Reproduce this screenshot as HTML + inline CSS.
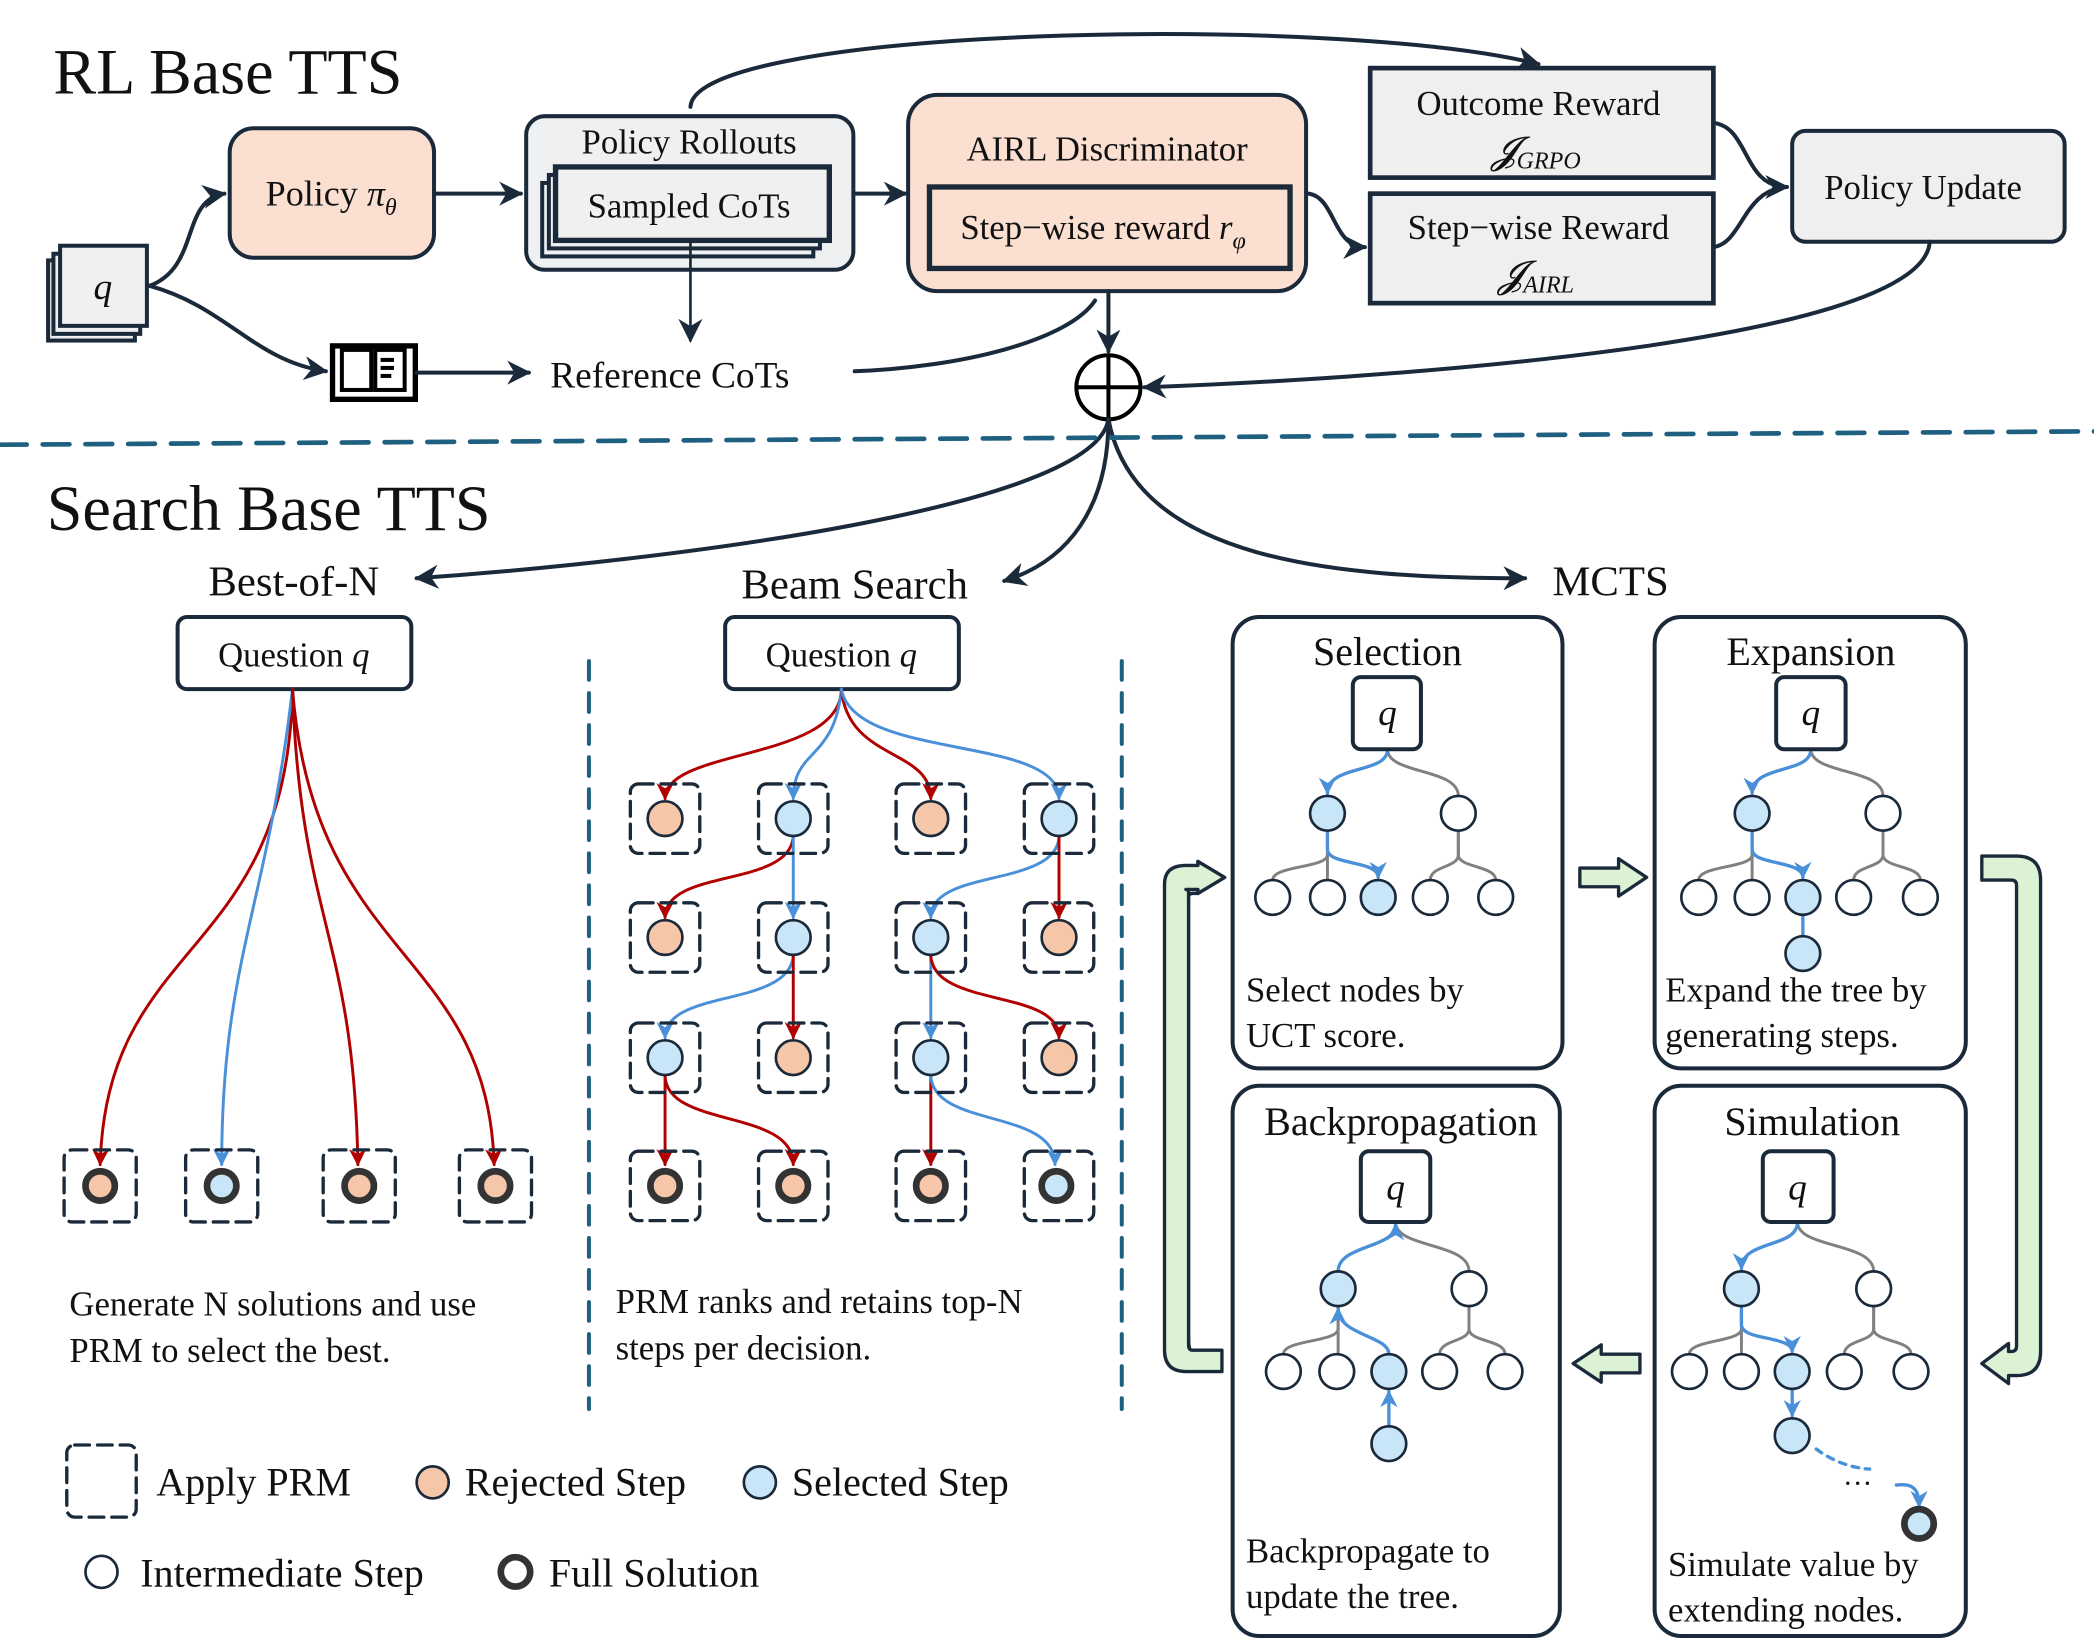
<!DOCTYPE html>
<html><head><meta charset="utf-8"><style>
html,body{margin:0;padding:0;background:#fff}
svg{display:block}
text{font-family:"Liberation Serif",serif;fill:#111}
</style></head><body>
<svg width="2094" height="1650" viewBox="0 0 1568 1235.5" preserveAspectRatio="none" xmlns="http://www.w3.org/2000/svg">
<defs>
<marker id="ad" viewBox="0 0 10 10" refX="9" refY="5" markerWidth="7" markerHeight="7" orient="auto" markerUnits="userSpaceOnUse"><path d="M0,0 L10,5 L0,10 L3,5z" fill="#1b2a3a"/></marker>
<marker id="adb" viewBox="0 0 10 10" refX="9" refY="5" markerWidth="18" markerHeight="18" orient="auto" markerUnits="userSpaceOnUse"><path d="M0,0 L10,5 L0,10 L3,5z" fill="#1b2a3a"/></marker>
<marker id="ar" viewBox="0 0 10 10" refX="9" refY="5" markerWidth="13" markerHeight="13" orient="auto" markerUnits="userSpaceOnUse"><path d="M0,0 L10,5 L0,10 L3,5z" fill="#b00000"/></marker>
<marker id="ab" viewBox="0 0 10 10" refX="9" refY="5" markerWidth="13" markerHeight="13" orient="auto" markerUnits="userSpaceOnUse"><path d="M0,0 L10,5 L0,10 L3,5z" fill="#4a90d9"/></marker>
</defs>
<g stroke-linecap="round">
<!-- top section -->
<text x="40" y="70" font-size="48">RL Base TTS</text>
<!-- q stack -->
<rect x="36" y="195" width="65" height="60" fill="#eee" stroke="#1b2a3a" stroke-width="3"/>
<rect x="40" y="190" width="65" height="60" fill="#eee" stroke="#1b2a3a" stroke-width="3"/>
<rect x="45" y="184" width="65" height="60" fill="#f0f0f0" stroke="#1b2a3a" stroke-width="3"/>
<text x="77" y="224" font-size="28" font-style="italic" text-anchor="middle">q</text>
<!-- policy -->
<rect x="172" y="96" width="153" height="97" rx="18" fill="#fbe0d2" stroke="#1b2a3a" stroke-width="3"/>
<text x="248" y="154" font-size="27" text-anchor="middle">Policy <tspan font-style="italic">π</tspan><tspan font-size="18" font-style="italic" dy="7">θ</tspan></text>
<!-- rollouts -->
<rect x="394" y="87" width="245" height="115" rx="14" fill="#eef0f2" stroke="#1b2a3a" stroke-width="3"/>
<text x="516" y="115" font-size="26" text-anchor="middle">Policy Rollouts</text>
<rect x="406" y="137" width="203" height="55" fill="#eef0f2" stroke="#1b2a3a" stroke-width="3"/>
<rect x="411" y="131" width="203" height="55" fill="#eef0f2" stroke="#1b2a3a" stroke-width="3"/>
<rect x="416" y="125" width="205" height="55" fill="#f0f0f0" stroke="#1b2a3a" stroke-width="4"/>
<text x="516" y="163" font-size="26" text-anchor="middle">Sampled CoTs</text>
<!-- AIRL -->
<rect x="680" y="71" width="298" height="147" rx="22" fill="#fbe0d2" stroke="#1b2a3a" stroke-width="3"/>
<text x="829" y="120" font-size="26" text-anchor="middle">AIRL Discriminator</text>
<rect x="696" y="140" width="270" height="61" fill="#fbe0d2" stroke="#1b2a3a" stroke-width="4"/>
<text x="826" y="179" font-size="26" text-anchor="middle">Step−wise reward <tspan font-style="italic">r</tspan><tspan font-size="18" font-style="italic" dy="7">φ</tspan></text>
<!-- outcome -->
<rect x="1026" y="51" width="257" height="82" fill="#efefef" stroke="#1b2a3a" stroke-width="3.5"/>
<text x="1152" y="86" font-size="26" text-anchor="middle">Outcome Reward</text>
<text x="1150" y="122" font-size="28" font-style="italic" text-anchor="middle">𝓙<tspan font-size="18" dy="4">GRPO</tspan></text>
<rect x="1026" y="145" width="257" height="82" fill="#efefef" stroke="#1b2a3a" stroke-width="3.5"/>
<text x="1152" y="179" font-size="26" text-anchor="middle">Step−wise Reward</text>
<text x="1150" y="215" font-size="28" font-style="italic" text-anchor="middle">𝓙<tspan font-size="18" dy="4">AIRL</tspan></text>
<!-- policy update -->
<rect x="1342" y="98" width="204" height="83" rx="10" fill="#efefef" stroke="#1b2a3a" stroke-width="3"/>
<text x="1440" y="149" font-size="26" text-anchor="middle">Policy Update</text>
<!-- book -->
<g stroke="#000" fill="none" stroke-width="3">
<rect x="249" y="259" width="62" height="40" fill="#fff" stroke-width="4"/>
<rect x="256" y="262" width="22" height="30"/>
<rect x="281" y="262" width="22" height="30"/>
</g>
<rect x="285" y="268" width="10" height="3" fill="#000"/><rect x="285" y="274" width="10" height="3" fill="#000"/><rect x="285" y="280" width="8" height="3" fill="#000"/>
<text x="412" y="290" font-size="28">Reference  CoTs</text>
<!-- oplus -->
<circle cx="830" cy="290" r="24" fill="#fff" stroke="#000" stroke-width="3"/>
<line x1="806" y1="290" x2="854" y2="290" stroke="#000" stroke-width="3"/>
<line x1="830" y1="266" x2="830" y2="314" stroke="#000" stroke-width="3"/>
<!-- top arrows -->
<g fill="none" stroke="#1b2a3a" stroke-width="3">
<path d="M112,214 C150,200 135,150 168,145" marker-end="url(#adb)"/>
<path d="M112,214 C170,230 190,270 244,278" marker-end="url(#adb)"/>
<path d="M325,145 L390,145" marker-end="url(#adb)"/>
<path d="M639,145 L678,145" marker-end="url(#adb)"/>
<path d="M517,182 L517,255" stroke-width="2" marker-end="url(#adb)"/>
<path d="M517,80 C520,20 1000,10 1152,48" marker-end="url(#adb)"/>
<path d="M312,279 L396,279" marker-end="url(#adb)"/>
<path d="M640,278 C720,275 800,255 820,225"/>
<path d="M830,218 L830,263" marker-end="url(#adb)"/>
<path d="M980,145 C1000,148 998,185 1022,185" marker-end="url(#adb)"/>
<path d="M1283,92 C1310,95 1305,140 1338,140" marker-end="url(#adb)"/>
<path d="M1283,185 C1305,182 1305,142 1338,140"/>
<path d="M1445,181 C1440,260 1000,285 857,290" marker-end="url(#adb)"/>
<path d="M830,314 C820,380 500,420 312,433" marker-end="url(#adb)"/>
<path d="M830,314 C830,380 800,420 752,435" marker-end="url(#adb)"/>
<path d="M830,314 C850,420 1000,433 1142,433" marker-end="url(#adb)"/>
</g>
<line x1="0" y1="333" x2="1568" y2="323" stroke="#1f5f80" stroke-width="3.5" stroke-dasharray="20,12"/>

<!-- Search -->
<text x="35" y="397" font-size="48">Search Base TTS</text>
<text x="220" y="446" font-size="32" text-anchor="middle">Best-of-N</text>
<text x="640" y="448" font-size="32" text-anchor="middle">Beam Search</text>
<text x="1206" y="446" font-size="32" text-anchor="middle">MCTS</text>

<rect x="133" y="462" width="175" height="54" rx="7" fill="#fff" stroke="#1b2a3a" stroke-width="3"/>
<text x="220" y="499" font-size="26" text-anchor="middle">Question <tspan font-style="italic">q</tspan></text>
<rect x="543" y="462" width="175" height="54" rx="7" fill="#fff" stroke="#1b2a3a" stroke-width="3"/>
<text x="630" y="499" font-size="26" text-anchor="middle">Question <tspan font-style="italic">q</tspan></text>

<line x1="441" y1="495" x2="441" y2="1055" stroke="#1f5f80" stroke-width="3" stroke-dasharray="14,10"/>
<line x1="840" y1="495" x2="840" y2="1055" stroke="#1f5f80" stroke-width="3" stroke-dasharray="14,10"/>

<!-- best of N -->
<g fill="none" stroke-width="2.2">
<path d="M219,516 C215,720 80,700 75,872" stroke="#b00000" marker-end="url(#ar)"/>
<path d="M219,516 C200,680 166,720 166,872" stroke="#4a90d9" marker-end="url(#ab)"/>
<path d="M219,516 C225,690 265,700 268,872" stroke="#b00000" marker-end="url(#ar)"/>
<path d="M219,516 C235,720 365,710 370,872" stroke="#b00000" marker-end="url(#ar)"/>
</g>
<g fill="none" stroke="#1b2a3a" stroke-width="2.5" stroke-dasharray="11,6">
<rect x="48" y="861" width="54" height="54" rx="6"/><rect x="139" y="861" width="54" height="54" rx="6"/>
<rect x="242" y="861" width="54" height="54" rx="6"/><rect x="344" y="861" width="54" height="54" rx="6"/>
</g>
<g stroke="#333" stroke-width="5">
<circle cx="75" cy="888" r="11" fill="#f6c6a9"/><circle cx="166" cy="888" r="11" fill="#c9e6f8"/>
<circle cx="269" cy="888" r="11" fill="#f6c6a9"/><circle cx="371" cy="888" r="11" fill="#f6c6a9"/>
</g>
<text x="52" y="985" font-size="26">Generate N solutions and use</text>
<text x="52" y="1020" font-size="26">PRM to select the best.</text>

<!-- beam search -->
<g fill="none" stroke-width="2.2">
<path d="M630,516 C630,570 498,560 498,598" stroke="#b00000" marker-end="url(#ar)"/>
<path d="M630,516 C625,570 594,560 594,598" stroke="#4a90d9" marker-end="url(#ab)"/>
<path d="M630,516 C635,570 697,560 697,598" stroke="#b00000" marker-end="url(#ar)"/>
<path d="M630,516 C640,570 793,550 793,598" stroke="#4a90d9" marker-end="url(#ab)"/>
<path d="M594,627 C590,665 498,650 498,687" stroke="#b00000" marker-end="url(#ar)"/>
<path d="M594,627 L594,687" stroke="#4a90d9" marker-end="url(#ab)"/>
<path d="M793,627 C790,665 697,650 697,687" stroke="#4a90d9" marker-end="url(#ab)"/>
<path d="M793,627 L793,687" stroke="#b00000" marker-end="url(#ar)"/>
<path d="M594,716 C590,755 498,740 498,777" stroke="#4a90d9" marker-end="url(#ab)"/>
<path d="M594,716 L594,777" stroke="#b00000" marker-end="url(#ar)"/>
<path d="M697,716 L697,777" stroke="#4a90d9" marker-end="url(#ab)"/>
<path d="M697,716 C700,755 793,740 793,777" stroke="#b00000" marker-end="url(#ar)"/>
<path d="M498,806 L498,872" stroke="#b00000" marker-end="url(#ar)"/>
<path d="M498,806 C500,845 594,830 594,872" stroke="#b00000" marker-end="url(#ar)"/>
<path d="M697,806 L697,872" stroke="#b00000" marker-end="url(#ar)"/>
<path d="M697,806 C700,845 790,830 790,872" stroke="#4a90d9" marker-end="url(#ab)"/>
</g>
<g fill="none" stroke="#1b2a3a" stroke-width="2.5" stroke-dasharray="11,6">
<rect x="472" y="587" width="52" height="52" rx="6"/><rect x="568" y="587" width="52" height="52" rx="6"/><rect x="671" y="587" width="52" height="52" rx="6"/><rect x="767" y="587" width="52" height="52" rx="6"/>
<rect x="472" y="676" width="52" height="52" rx="6"/><rect x="568" y="676" width="52" height="52" rx="6"/><rect x="671" y="676" width="52" height="52" rx="6"/><rect x="767" y="676" width="52" height="52" rx="6"/>
<rect x="472" y="766" width="52" height="52" rx="6"/><rect x="568" y="766" width="52" height="52" rx="6"/><rect x="671" y="766" width="52" height="52" rx="6"/><rect x="767" y="766" width="52" height="52" rx="6"/>
<rect x="472" y="862" width="52" height="52" rx="6"/><rect x="568" y="862" width="52" height="52" rx="6"/><rect x="671" y="862" width="52" height="52" rx="6"/><rect x="767" y="862" width="52" height="52" rx="6"/>
</g>
<g stroke="#1b2a3a" stroke-width="2">
<circle cx="498" cy="613" r="13" fill="#f6c6a9"/><circle cx="594" cy="613" r="13" fill="#c9e6f8"/><circle cx="697" cy="613" r="13" fill="#f6c6a9"/><circle cx="793" cy="613" r="13" fill="#c9e6f8"/>
<circle cx="498" cy="702" r="13" fill="#f6c6a9"/><circle cx="594" cy="702" r="13" fill="#c9e6f8"/><circle cx="697" cy="702" r="13" fill="#c9e6f8"/><circle cx="793" cy="702" r="13" fill="#f6c6a9"/>
<circle cx="498" cy="792" r="13" fill="#c9e6f8"/><circle cx="594" cy="792" r="13" fill="#f6c6a9"/><circle cx="697" cy="792" r="13" fill="#c9e6f8"/><circle cx="793" cy="792" r="13" fill="#f6c6a9"/>
</g>
<g stroke="#333" stroke-width="5">
<circle cx="498" cy="888" r="11" fill="#f6c6a9"/><circle cx="594" cy="888" r="11" fill="#f6c6a9"/><circle cx="697" cy="888" r="11" fill="#f6c6a9"/><circle cx="791" cy="888" r="11" fill="#c9e6f8"/>
</g>
<text x="461" y="983" font-size="26">PRM ranks and retains top-N</text>
<text x="461" y="1018" font-size="26">steps per decision.</text>

<!-- legend -->
<rect x="50" y="1082" width="52" height="54" rx="6" fill="none" stroke="#1b2a3a" stroke-width="2.5" stroke-dasharray="11,6"/>
<text x="117" y="1120" font-size="30">Apply PRM</text>
<circle cx="324" cy="1110" r="12" fill="#f6c6a9" stroke="#1b2a3a" stroke-width="2"/>
<text x="348" y="1120" font-size="30">Rejected Step</text>
<circle cx="569" cy="1110" r="12" fill="#c9e6f8" stroke="#1b2a3a" stroke-width="2"/>
<text x="593" y="1120" font-size="30">Selected Step</text>
<circle cx="76" cy="1177" r="12" fill="#fff" stroke="#1b2a3a" stroke-width="2"/>
<text x="105" y="1188" font-size="30">Intermediate Step</text>
<circle cx="386" cy="1177" r="11" fill="#fff" stroke="#333" stroke-width="5"/>
<text x="411" y="1188" font-size="30">Full Solution</text>

<!-- MCTS panels -->
<g fill="#fff" stroke="#1b2a3a" stroke-width="3">
<rect x="923" y="462" width="247" height="338" rx="20"/>
<rect x="1239" y="462" width="233" height="338" rx="20"/>
<rect x="923" y="813" width="245" height="412" rx="20"/>
<rect x="1239" y="813" width="233" height="412" rx="20"/>
</g>
<text x="1039" y="498" font-size="30" text-anchor="middle">Selection</text>
<text x="1356" y="498" font-size="30" text-anchor="middle">Expansion</text>
<text x="1049" y="850" font-size="30" text-anchor="middle">Backpropagation</text>
<text x="1357" y="850" font-size="30" text-anchor="middle">Simulation</text>

<!-- green arrows -->
<g fill="#dcf2d4" stroke="#1b2a3a" stroke-width="2.5" stroke-linejoin="round">
<path d="M1183,650 L1212,650 L1212,643 L1233,657 L1212,671 L1212,664 L1183,664 Z"/>
<path d="M1228,1014 L1199,1014 L1199,1007 L1178,1021 L1199,1035 L1199,1028 L1228,1028 Z"/>
<path d="M915,1013 L893,1013 Q880,1013 880,1000 L880,672 Q880,659 893,659 L897,659 L897,645 L917,657 L897,669 L897,669 L893,669 Q890,669 890,672 L890,1000 Q890,1013 893,1013 Z" />
<path d="M915,1027 L888,1027 Q872,1027 872,1011 L872,662 Q872,648 888,648 L897,648 L897,645 L917,657 L897,669 L897,666 L888,666 Q890,666 890,668 L890,1007 Q890,1011 893,1011 L915,1011 Z"/>
<path d="M1484,641 L1510,641 Q1528,641 1528,659 L1528,1012 Q1528,1030 1510,1030 L1504,1030 L1504,1036 L1484,1021 L1504,1006 L1504,1012 L1506,1012 Q1510,1012 1510,1008 L1510,663 Q1510,659 1506,659 L1484,659 Z"/>
</g>

<!-- trees -->
<g fill="none" stroke="#808080" stroke-width="2.2">
<!-- selection -->
<path d="M1039,561 C1039,580 1092,575 1092,596"/>
<path d="M994,622 L994,640 C994,650 953,648 953,659"/><path d="M994,622 L994,659"/>
<path d="M1092,622 L1092,640 C1092,650 1071,648 1071,659"/><path d="M1092,622 L1092,640 C1092,650 1120,648 1120,659"/>
<!-- expansion -->
<path d="M1356,561 C1356,580 1410,575 1410,596"/>
<path d="M1312,622 L1312,640 C1312,650 1272,648 1272,659"/><path d="M1312,622 L1312,659"/>
<path d="M1410,622 L1410,640 C1410,650 1388,648 1388,659"/><path d="M1410,622 L1410,640 C1410,650 1438,648 1438,659"/>
<!-- backprop -->
<path d="M1045,915 C1045,935 1100,930 1100,952"/>
<path d="M1002,978 L1002,995 C1002,1005 961,1003 961,1014"/><path d="M1002,978 L1002,1014"/>
<path d="M1100,978 L1100,995 C1100,1005 1078,1003 1078,1014"/><path d="M1100,978 L1100,995 C1100,1005 1127,1003 1127,1014"/>
<!-- simulation -->
<path d="M1346,915 C1346,935 1403,930 1403,952"/>
<path d="M1304,978 L1304,995 C1304,1005 1265,1003 1265,1014"/><path d="M1304,978 L1304,1014"/>
<path d="M1403,978 L1403,995 C1403,1005 1381,1003 1381,1014"/><path d="M1403,978 L1403,995 C1403,1005 1431,1003 1431,1014"/>
</g>
<g fill="none" stroke="#4a90d9" stroke-width="2.5">
<path d="M1039,561 C1039,580 994,572 994,594" marker-end="url(#ab)"/>
<path d="M994,622 L994,636 C994,648 1032,644 1032,657" marker-end="url(#ab)"/>
<path d="M1356,561 C1356,580 1312,572 1312,594" marker-end="url(#ab)"/>
<path d="M1312,622 L1312,636 C1312,648 1350,644 1350,657" marker-end="url(#ab)"/>
<path d="M1350,685 L1350,700"/>
<path d="M1002,952 C1002,932 1045,935 1045,917" marker-end="url(#ab)"/>
<path d="M1040,1014 C1040,1000 1002,1000 1002,980" marker-end="url(#ab)"/>
<path d="M1040,1068 L1040,1042" marker-end="url(#ab)"/>
<path d="M1346,915 C1346,935 1304,928 1304,950" marker-end="url(#ab)"/>
<path d="M1304,978 L1304,992 C1304,1004 1342,1000 1342,1012" marker-end="url(#ab)"/>
<path d="M1342,1040 L1342,1060" marker-end="url(#ab)"/>
<path d="M1360,1085 C1380,1100 1400,1100 1400,1100" stroke-dasharray="5,5"/>
<path d="M1420,1112 C1435,1110 1437,1118 1437,1128" marker-end="url(#ab)"/>
</g>
<text x="1380" y="1118" font-size="22">···</text>
<g stroke="#1b2a3a" stroke-width="2">
<circle cx="1039" cy="534" r="0" fill="none"/>
<circle cx="994" cy="609" r="13" fill="#c9e6f8"/><circle cx="1092" cy="609" r="13" fill="#fff"/>
<circle cx="953" cy="672" r="13" fill="#fff"/><circle cx="994" cy="672" r="13" fill="#fff"/><circle cx="1032" cy="672" r="13" fill="#c9e6f8"/><circle cx="1071" cy="672" r="13" fill="#fff"/><circle cx="1120" cy="672" r="13" fill="#fff"/>
<circle cx="1312" cy="609" r="13" fill="#c9e6f8"/><circle cx="1410" cy="609" r="13" fill="#fff"/>
<circle cx="1272" cy="672" r="13" fill="#fff"/><circle cx="1312" cy="672" r="13" fill="#fff"/><circle cx="1350" cy="672" r="13" fill="#c9e6f8"/><circle cx="1388" cy="672" r="13" fill="#fff"/><circle cx="1438" cy="672" r="13" fill="#fff"/>
<circle cx="1350" cy="714" r="13" fill="#c9e6f8"/>
<circle cx="1002" cy="965" r="13" fill="#c9e6f8"/><circle cx="1100" cy="965" r="13" fill="#fff"/>
<circle cx="961" cy="1027" r="13" fill="#fff"/><circle cx="1001" cy="1027" r="13" fill="#fff"/><circle cx="1040" cy="1027" r="13" fill="#c9e6f8"/><circle cx="1078" cy="1027" r="13" fill="#fff"/><circle cx="1127" cy="1027" r="13" fill="#fff"/>
<circle cx="1040" cy="1081" r="13" fill="#c9e6f8"/>
<circle cx="1304" cy="965" r="13" fill="#c9e6f8"/><circle cx="1403" cy="965" r="13" fill="#fff"/>
<circle cx="1265" cy="1027" r="13" fill="#fff"/><circle cx="1304" cy="1027" r="13" fill="#fff"/><circle cx="1342" cy="1027" r="13" fill="#c9e6f8"/><circle cx="1381" cy="1027" r="13" fill="#fff"/><circle cx="1431" cy="1027" r="13" fill="#fff"/>
<circle cx="1342" cy="1075" r="13" fill="#c9e6f8"/>
</g>
<circle cx="1437" cy="1141" r="11" fill="#c9e6f8" stroke="#333" stroke-width="5"/>
<g fill="#fff" stroke="#1b2a3a" stroke-width="3">
<rect x="1013" y="507" width="51" height="54" rx="6"/>
<rect x="1330" y="507" width="52" height="54" rx="6"/>
<rect x="1019" y="862" width="52" height="53" rx="6"/>
<rect x="1320" y="862" width="53" height="53" rx="6"/>
</g>
<g font-size="28" font-style="italic" text-anchor="middle">
<text x="1039" y="543">q</text><text x="1356" y="543">q</text><text x="1045" y="898">q</text><text x="1346" y="898">q</text>
</g>
<text x="933" y="750" font-size="26">Select nodes by</text>
<text x="933" y="784" font-size="26">UCT score.</text>
<text x="1247" y="750" font-size="26">Expand the tree by</text>
<text x="1247" y="784" font-size="26">generating steps.</text>
<text x="933" y="1170" font-size="26">Backpropagate to</text>
<text x="933" y="1204" font-size="26">update the tree.</text>
<text x="1249" y="1180" font-size="26">Simulate value by</text>
<text x="1249" y="1214" font-size="26">extending nodes.</text>
</g>
</svg>
</body></html>
